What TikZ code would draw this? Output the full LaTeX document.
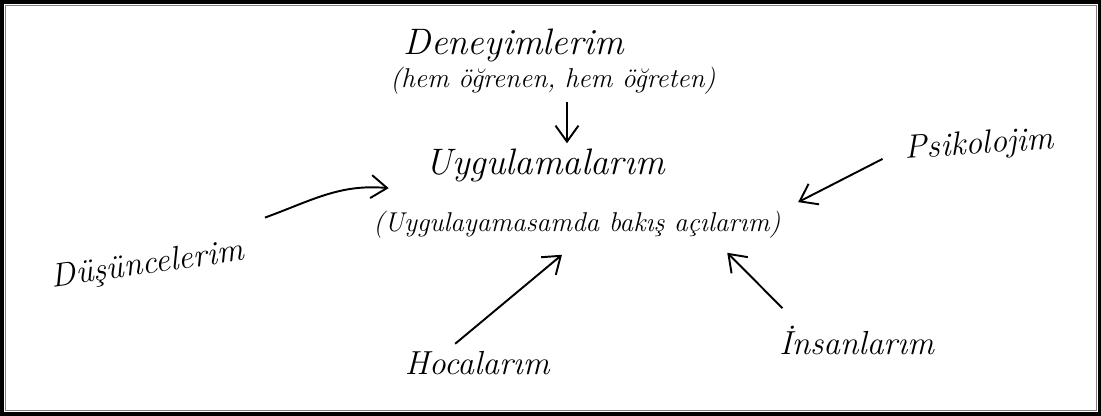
\documentclass[tikz,border=0pt]{standalone}
\usepackage{tikz}
\usetikzlibrary{%
  arrows.meta,%
  positioning,%
  calc%
}

\begin{document}
\begin{tikzpicture}[
  x=0.02cm, y=-0.02cm,
  >={Straight Barb[length=3.2mm,width=4.6mm,line width=1.1pt]},
  line width=1.1pt,
  baslik/.style={font=\itshape\fontsize{21}{24}\selectfont, inner sep=1pt},
  aciklama/.style={font=\itshape\fontsize{15.5}{18}\selectfont, inner sep=1pt},
  kaynak/.style={font=\itshape\fontsize{19}{22}\selectfont, inner sep=1pt}]

% frame
\draw[line width=2pt] (1,1) rectangle (1100,414);
\draw[gray, line width=0.6pt] (4.5,4.5) rectangle (1097,410.5);

% center
\node[baslik] (uyg) at (545,165) {Uygulamalarım};
\node[aciklama] (bakis) at (577,224) {(Uygulayamasamda bakış açılarım)};

% top
\node[baslik] (den) at (514,45) {Deneyimlerim};
\node[aciklama] (hem) at (553,80) {(hem öğrenen, hem öğreten)};

% around
\node[kaynak, rotate=8] (dus) at (147,265) {Düşüncelerim};
\node[kaynak, rotate=4] (psi) at (980,145) {Psikolojim};
\node[kaynak] (hoca) at (477,363) {Hocalarım};
\node[kaynak] (ins) at (857,340) {İnsanlarım};

\draw[->] ($(hem.south)+(14,5)$) -- ($(uyg.north)+(22,-3)$);
\draw[->] ($(dus.east)+(19,-34)$) to[out=20, in=175] ($(bakis.north west)+(18,-20)$);
\draw[->] ($(psi.west)+(-20,8)$) -- ($(bakis.north east)+(15,-6)$);
\draw[->] ($(hoca.north)+(-22,-5)$) -- ($(bakis.south)+(-15,14)$);
\draw[->] ($(ins.north west)+(6,-15)$) -- ($(bakis.south east)+(-56,12)$);

\end{tikzpicture}
\end{document}
